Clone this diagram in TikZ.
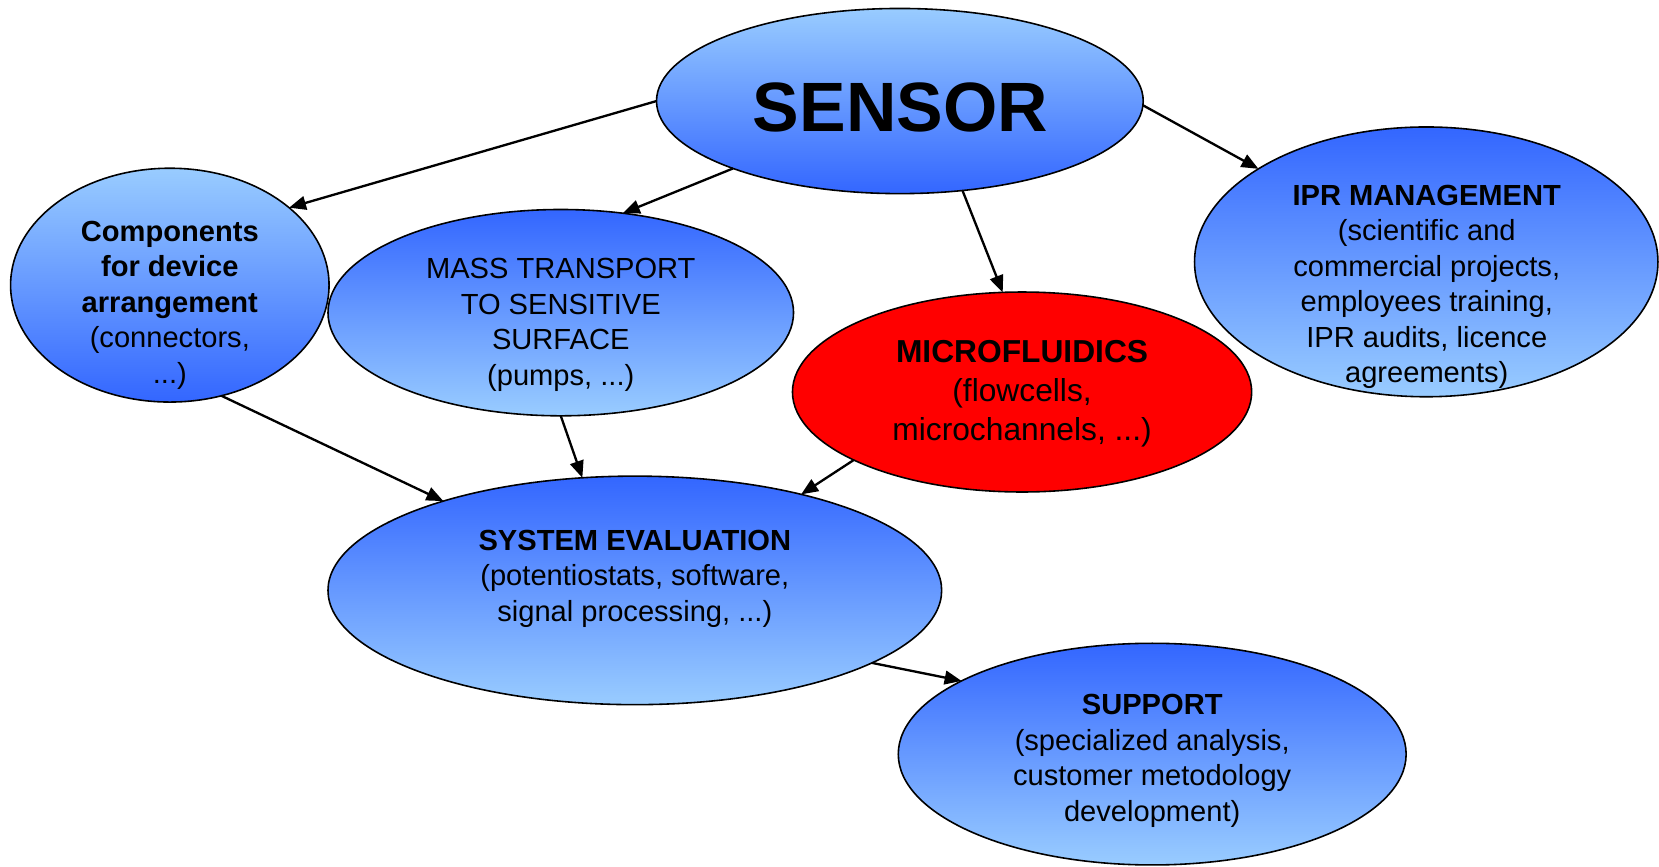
\documentclass[tikz,border=0pt]{standalone}
\usepackage{fontspec}
\setmainfont{Liberation Sans}
\usetikzlibrary{shapes.geometric,arrows.meta,shadings}
\definecolor{lightblue}{HTML}{99CCFF}
\definecolor{darkblue}{HTML}{3366FF}
\begin{document}
\begin{tikzpicture}[x=1pt,y=-1pt,
  ell/.style={ellipse, draw=black, line width=1.5pt, inner sep=0pt, outer sep=0pt},
  lightup/.style={top color=lightblue, bottom color=darkblue},
  darkup/.style={top color=darkblue, bottom color=lightblue},
  txt/.style={align=center, inner sep=0pt, font=\fontsize{27.5}{33.5}\selectfont},
  conn/.style={line width=2.2pt, -{Triangle[length=16pt,width=13pt]}}]
\useasboundingbox (0,0) rectangle (1568,818.5);
% ellipses
\node[ell, lightup, minimum width=460pt, minimum height=175pt] (sensor) at (850.5,95.5) {};
\node[ell, darkup, minimum width=440pt, minimum height=195pt] (mass) at (530,295.5) {};
\node[ell, lightup, minimum width=301pt, minimum height=221pt] (comp) at (160.5,269.5) {};
\node[ell, fill=red, minimum width=434pt, minimum height=189pt] (micro) at (966,370.5) {};
\node[ell, darkup, minimum width=438pt, minimum height=255pt] (ipr) at (1348,247.5) {};
\node[ell, darkup, minimum width=580pt, minimum height=216pt] (syseval) at (600,558) {};
\node[ell, darkup, minimum width=480pt, minimum height=209.5pt] (support) at (1089,712.75) {};
% texts
\node[inner sep=0pt, font=\fontsize{66}{70}\selectfont\bfseries] (sensor-t) at (851,101.5) {SENSOR};
\node[txt] (comp-t) at (160.5,288.5) {\textbf{Components}\\\textbf{for device}\\\textbf{arrangement}\\(connectors,\\...)};
\node[txt] (mass-t) at (530,307) {MASS TRANSPORT\\TO SENSITIVE\\SURFACE\\(pumps, ...)};
\node[txt, font=\fontsize{30}{36.5}\selectfont] (micro-t) at (966,372) {\textbf{MICROFLUIDICS}\\(flowcells,\\microchannels, ...)};
\node[txt] (ipr-t) at (1348.5,271) {\textbf{IPR MANAGEMENT}\\(scientific and\\commercial projects,\\employees training,\\IPR audits, licence\\agreements)};
\node[txt] (syseval-t) at (600,547) {\textbf{SYSTEM EVALUATION}\\(potentiostats, software,\\signal processing, ...)};
\node[txt] (support-t) at (1089,719) {\textbf{SUPPORT}\\(specialized analysis,\\customer metodology\\development)};
% connectors
\draw[conn] (sensor.180) -- (comp.33);
\draw[conn] (sensor.202) -- (mass.58);
\draw[conn] (sensor.305) -- (micro.101);
\draw[conn] (sensor.359) -- (ipr.151);
\draw[conn] (comp.295) -- (syseval.155);
\draw[conn] (mass.270) -- (syseval.115);
\draw[conn] (micro.202) -- (syseval.30);
\draw[conn] (syseval.343) -- (support.159);
\end{tikzpicture}
\end{document}
